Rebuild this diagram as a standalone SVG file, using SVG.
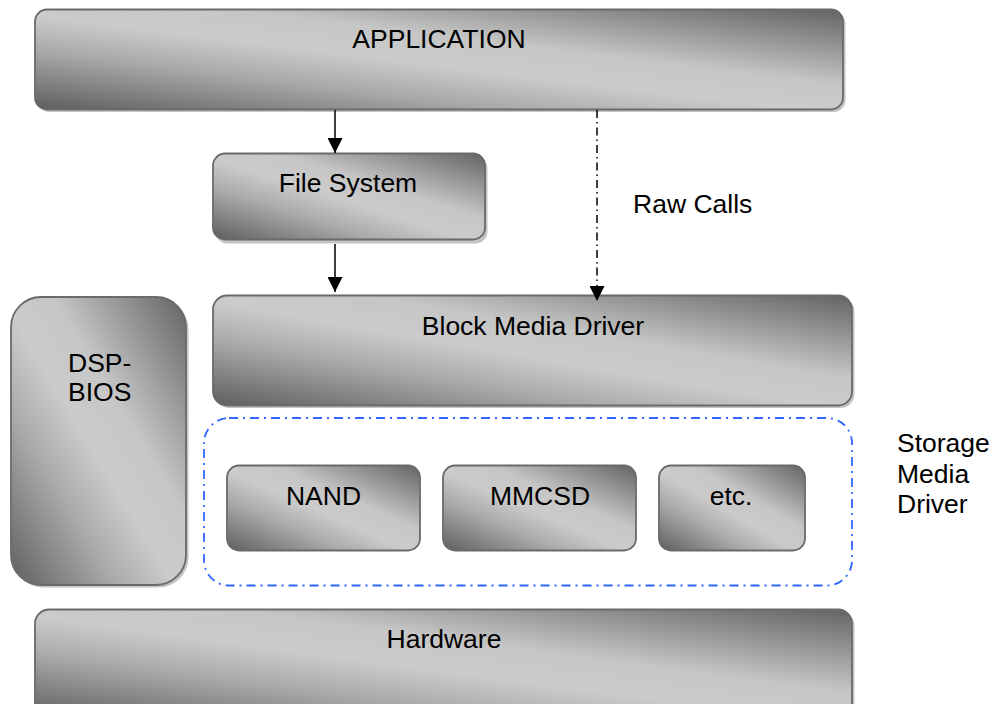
<svg xmlns="http://www.w3.org/2000/svg" width="995" height="704" viewBox="0 0 995 704">
<defs>
<linearGradient id="g" x1="0" y1="1" x2="1" y2="0">
<stop offset="0" stop-color="#5e5e5e"/>
<stop offset="0.3" stop-color="#aaaaaa"/>
<stop offset="0.47" stop-color="#cbcbcb"/>
<stop offset="0.62" stop-color="#c6c6c6"/>
<stop offset="1" stop-color="#636363"/>
</linearGradient>
<marker id="ah" viewBox="0 0 10 10" refX="10" refY="5" markerWidth="15" markerHeight="15" markerUnits="userSpaceOnUse" orient="auto">
<path d="M0,0 L10,5 L0,10 Z" fill="#000"/>
</marker>
<style>
.box{fill:url(#g);stroke:#6a6a6a;stroke-width:1.8}
.sh{fill:#c4c4c4}
text{font-family:"Liberation Sans",Arial,sans-serif;font-size:26.5px;fill:#000}
.c{text-anchor:middle}
.ln{stroke:#000;stroke-width:1.5;fill:none}
</style>
</defs>
<rect width="995" height="704" fill="#fff"/>
<g id="application">
<rect class="sh" x="37.5" y="12" width="808" height="100" rx="12"/>
<rect class="box" x="35" y="9.5" width="808" height="100" rx="12"/>
<text class="c" x="439" y="48">APPLICATION</text>
</g>
<g id="filesystem">
<rect class="sh" x="215.5" y="156.5" width="272" height="87" rx="12"/>
<rect class="box" x="213" y="153.5" width="272" height="86" rx="12"/>
<text class="c" x="348" y="192">File System</text>
</g>
<g id="blockmediadriver">
<rect class="sh" x="215.5" y="298" width="639" height="110" rx="14"/>
<rect class="box" x="213" y="295.5" width="639" height="110" rx="14"/>
<text class="c" x="533" y="335">Block Media Driver</text>
</g>
<g id="dspbios">
<rect class="sh" x="13.5" y="299.5" width="175" height="288" rx="30"/>
<rect class="box" x="11" y="297" width="175" height="288" rx="30"/>
<text x="68" y="372">DSP-</text>
<text x="68" y="401">BIOS</text>
</g>
<g id="storagemediadriver">
<rect x="204" y="418" width="648" height="167.5" rx="25" fill="none" stroke="#2f66ff" stroke-width="1.8" stroke-dasharray="9 5 2 5"/>
<text x="897" y="452">Storage</text>
<text x="897" y="482.5">Media</text>
<text x="897" y="512.5">Driver</text>
</g>
<g id="nand">
<rect class="box" x="227" y="465.5" width="193" height="85" rx="12"/>
<text class="c" x="323.5" y="505">NAND</text>
</g>
<g id="mmcsd">
<rect class="box" x="443" y="465.5" width="193" height="85" rx="12"/>
<text class="c" x="540" y="505">MMCSD</text>
</g>
<g id="etc">
<rect class="box" x="659" y="465.5" width="146" height="85" rx="12"/>
<text class="c" x="731" y="505">etc.</text>
</g>
<g id="hardware">
<rect class="sh" x="37.5" y="612" width="817" height="110" rx="14"/>
<rect class="box" x="35" y="609.5" width="817" height="110" rx="14"/>
<text class="c" x="444" y="648">Hardware</text>
</g>
<g id="connectors">
<line class="ln" x1="335" y1="110" x2="335" y2="153" marker-end="url(#ah)"/>
<line class="ln" x1="335" y1="244" x2="335" y2="292" marker-end="url(#ah)"/>
<line class="ln" x1="597" y1="110" x2="597" y2="301" stroke-dasharray="8 4 1.5 4" marker-end="url(#ah)"/>
<text x="633" y="212.5">Raw Calls</text>
</g>
</svg>
